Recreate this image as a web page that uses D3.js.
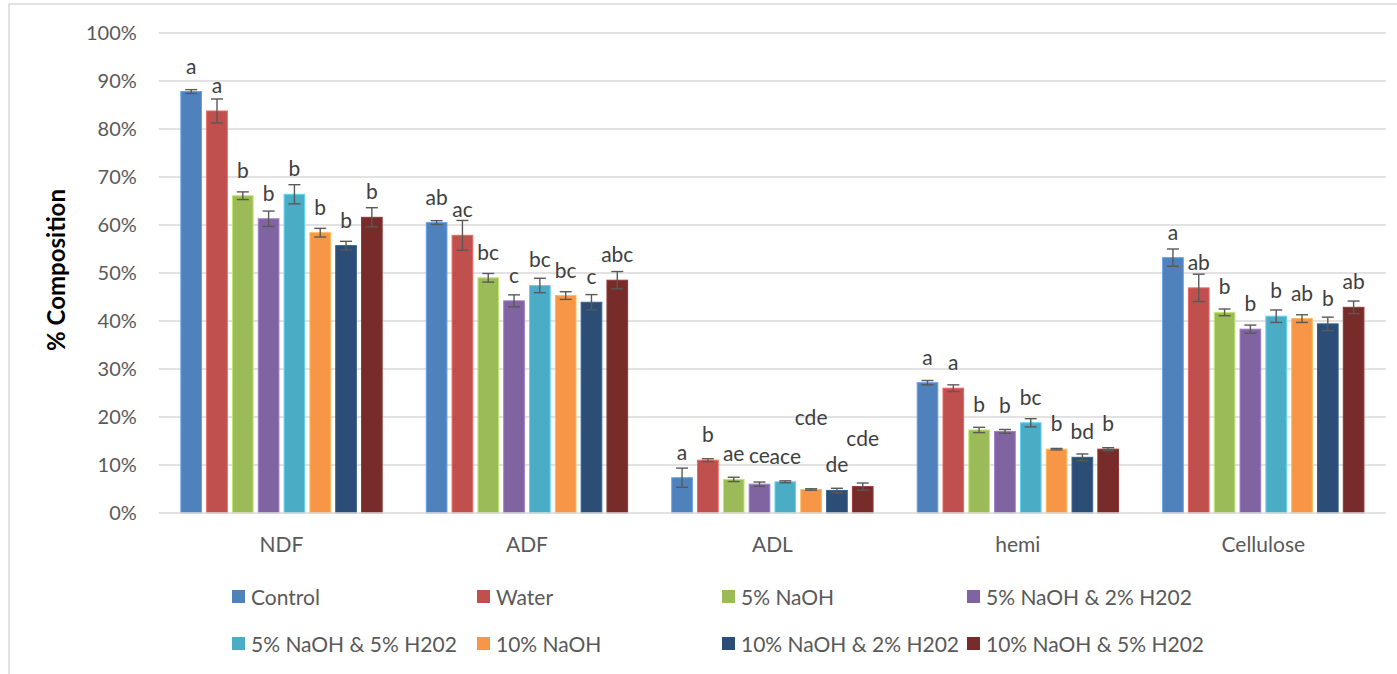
<!DOCTYPE html>
<html>
<head>
<meta charset="utf-8">
<script src="https://cdn.jsdelivr.net/npm/d3@7"></script>
<style>
  html, body { margin: 0; padding: 0; background: #fff; }
  svg { display: block; font-family: Lato, "Liberation Sans", sans-serif; }
</style>
</head>
<body>
<svg id="chart" width="1397" height="674"></svg>
<script>
// ---- data ----
const categories = ["NDF", "ADF", "ADL", "hemi", "Cellulose"];
const seriesNames = ["Control", "Water", "5% NaOH", "5% NaOH & 2% H202",
                     "5% NaOH & 5% H202", "10% NaOH", "10% NaOH & 2% H202", "10% NaOH & 5% H202"];
const seriesColors = ["#4F81BD", "#C0504D", "#9BBB59", "#8064A2", "#4BACC6", "#F79646", "#2C4D75", "#772C2A"];

const control   = [87.8, 60.5, 7.35, 27.15, 53.2];
const water     = [83.75, 57.85, 11.0, 26.0, 46.9];
const naoh5     = [66.1, 49.0, 7.0, 17.3, 41.8];
const naoh5h2   = [61.3, 44.2, 6.0, 17.0, 38.3];
const naoh5h5   = [66.4, 47.4, 6.5, 18.8, 41.0];
const naoh10    = [58.4, 45.3, 4.9, 13.3, 40.5];
const naoh10h2  = [55.7, 43.9, 4.7, 11.6, 39.4];
const naoh10h5  = [61.6, 48.5, 5.5, 13.3, 42.85];

const errControl  = [0.4, 0.4, 2.0, 0.45, 1.8];
const errWater    = [2.5, 3.1, 0.3, 0.7, 2.85];
const errNaoh5    = [0.8, 0.9, 0.45, 0.55, 0.7];
const errNaoh5h2  = [1.6, 1.25, 0.45, 0.4, 0.85];
const errNaoh5h5  = [2.0, 1.5, 0.2, 0.85, 1.3];
const errNaoh10   = [0.9, 0.8, 0.15, 0.15, 0.8];
const errNaoh10h2 = [0.9, 1.6, 0.45, 0.7, 1.4];
const errNaoh10h5 = [2.0, 1.8, 0.75, 0.3, 1.3];

const letControl  = ["a", "ab", "a", "a", "a"];
const letWater    = ["a", "ac", "b", "a", "ab"];
const letNaoh5    = ["b", "bc", "ae", "b", "b"];
const letNaoh5h2  = ["b", "c", "ce", "b", "b"];
const letNaoh5h5  = ["b", "bc", "ace", "bc", "b"];
const letNaoh10   = ["b", "bc", "cde", "b", "ab"];
const letNaoh10h2 = ["b", "c", "de", "bd", "b"];
const letNaoh10h5 = ["b", "abc", "cde", "b", "ab"];

// ADL letters that were moved by hand in the original (height in % units)
const adlLabelAt = [null, null, null, 10.4, null, 18.3, null, 14.0];

const yTicks = [0, 10, 20, 30, 40, 50, 60, 70, 80, 90, 100];

const seriesValues = [control, water, naoh5, naoh5h2, naoh5h5, naoh10, naoh10h2, naoh10h5];
const seriesErrors = [errControl, errWater, errNaoh5, errNaoh5h2, errNaoh5h5, errNaoh10, errNaoh10h2, errNaoh10h5];
const seriesLetters = [letControl, letWater, letNaoh5, letNaoh5h2, letNaoh5h5, letNaoh10, letNaoh10h2, letNaoh10h5];

// ---- layout ----
const svg = d3.select("#chart");
const plot = { left: 158.8, right: 1386, top: 33, bottom: 513 };

// outer frame
svg.append("rect")
  .attr("x", 9).attr("y", 4).attr("width", 1400).attr("height", 700)
  .attr("fill", "none").attr("stroke", "#d9d9d9").attr("stroke-width", 1.5);

const x0 = d3.scaleBand().domain(categories).range([plot.left, plot.right]).padding(0);
const x1 = d3.scaleBand().domain(d3.range(seriesNames.length))
  .range([0, x0.bandwidth()]).paddingInner(0.2).paddingOuter(0.855);
const y = d3.scaleLinear().domain([0, 100]).range([plot.bottom, plot.top]);

// gridlines
svg.append("g").selectAll("line").data(yTicks.filter(t => t > 0)).join("line")
  .attr("x1", plot.left).attr("x2", plot.right)
  .attr("y1", d => y(d)).attr("y2", d => y(d))
  .attr("stroke", "#d9d9d9").attr("stroke-width", 1.3);

// y axis labels
const yAxis = d3.axisLeft(y).tickValues(yTicks).tickFormat(d => d + "%").tickSize(0).tickPadding(22);
const gy = svg.append("g").attr("transform", `translate(${plot.left},0)`).call(yAxis);
gy.select(".domain").remove();
gy.selectAll("text").attr("fill", "#595959").style("font-size", "20px").style("font-family", "Lato");

// bars
const groups = svg.append("g").selectAll("g").data(categories).join("g")
  .attr("transform", d => `translate(${x0(d)},0)`);

groups.each(function(cat, ci) {
  const g = d3.select(this);
  const rows = seriesNames.map((s, si) => ({
    si, v: seriesValues[si][ci], e: seriesErrors[si][ci], t: seriesLetters[si][ci],
    la: (cat === "ADL") ? adlLabelAt[si] : null
  }));
  g.selectAll("rect").data(rows).join("rect")
    .attr("x", d => x1(d.si)).attr("width", x1.bandwidth())
    .attr("y", d => y(d.v)).attr("height", d => y(0) - y(d.v))
    .attr("fill", d => seriesColors[d.si])
    .attr("stroke", d => d3.color(seriesColors[d.si]).brighter(0.6))
    .attr("stroke-width", 1);
  // error bars
  const eb = g.selectAll("g.eb").data(rows).join("g").attr("class", "eb");
  const cx = d => x1(d.si) + x1.bandwidth() / 2;
  eb.append("line").attr("x1", cx).attr("x2", cx)
    .attr("y1", d => y(d.v + d.e)).attr("y2", d => y(d.v - d.e));
  eb.append("line").attr("x1", d => cx(d) - 6).attr("x2", d => cx(d) + 6)
    .attr("y1", d => y(d.v + d.e)).attr("y2", d => y(d.v + d.e));
  eb.append("line").attr("x1", d => cx(d) - 6).attr("x2", d => cx(d) + 6)
    .attr("y1", d => y(d.v - d.e)).attr("y2", d => y(d.v - d.e));
  eb.selectAll("line").attr("stroke", "#595959").attr("stroke-width", 1.4);
  // letters
  g.selectAll("text.lbl").data(rows).join("text").attr("class", "lbl")
    .attr("x", cx)
    .attr("y", d => d.la != null ? y(d.la) : y(d.v) - 18)
    .attr("text-anchor", "middle")
    .attr("fill", "#404040")
    .style("font-size", "21px")
    .text(d => d.t);
});

// x axis line
svg.append("line").attr("x1", plot.left).attr("x2", plot.right)
  .attr("y1", y(0)).attr("y2", y(0)).attr("stroke", "#d9d9d9").attr("stroke-width", 1.3);

// x axis labels
const xAxis = d3.axisBottom(x0).tickSize(0).tickPadding(24);
const gx = svg.append("g").attr("transform", `translate(0,${y(0)})`).call(xAxis);
gx.select(".domain").remove();
gx.selectAll("text").attr("fill", "#595959").style("font-size", "21px").style("font-family", "Lato");

// y title
svg.append("text")
  .attr("transform", `translate(65,${(plot.top + plot.bottom) / 2 - 3}) rotate(-90)`)
  .attr("text-anchor", "middle")
  .attr("fill", "#000")
  .style("font-size", "24px").style("font-weight", "bold")
  .text("% Composition");

// legend
const leg = svg.append("g").selectAll("g").data(seriesNames).join("g")
  .attr("transform", (d, i) => `translate(${232 + (i % 4) * 245},${590 + Math.floor(i / 4) * 47})`);
leg.append("rect").attr("width", 13).attr("height", 13).attr("fill", (d, i) => seriesColors[i]);
leg.append("text").attr("x", 19).attr("y", 15)
  .attr("fill", "#595959").style("font-size", "21px").text(d => d);
</script>
</body>
</html>
